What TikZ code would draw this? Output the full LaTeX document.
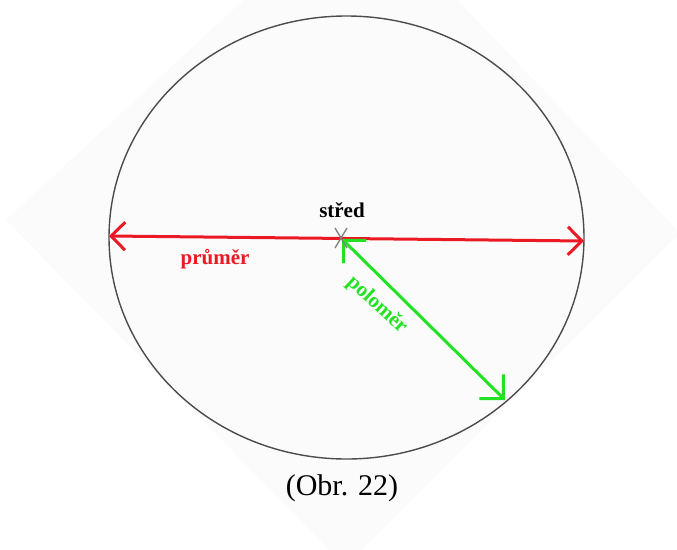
\documentclass[tikz,border=0pt]{standalone}
\usepackage{fontspec}
\setmainfont{Liberation Serif}
\usetikzlibrary{arrows.meta}
\definecolor{prumer}{RGB}{235,25,35}
\definecolor{polomer}{RGB}{35,225,35}
\definecolor{pozadi}{RGB}{251,251,251}

\begin{document}
\begin{tikzpicture}[x=1pt, y=-1pt,
  sipka/.style={{Straight Barb[length=14pt,width=28pt]}-{Straight Barb[length=14pt,width=28pt]}},
  zsipka/.style={{Straight Barb[length=16pt,width=32pt]}-{Straight Barb[length=17pt,width=34pt]}},
  popis/.style={font=\bfseries\fontsize{21}{24}\selectfont, inner sep=0pt}]
  \useasboundingbox (0,0) rectangle (677,549);
  \clip (0,0) rectangle (677,549);
  \fill[white] (0,0) rectangle (677,549);
  \fill[pozadi] (6,220) -- (357,-105) -- (680,233) -- (345,566) -- cycle;
  % kruznice
  \draw[gray!60!black, line width=1.4pt] (346.5,237.5) ellipse [x radius=237.5, y radius=221.5];
  \coordinate (S) at (342,239);
  \coordinate (L) at (109,236);
  \coordinate (R) at (584,241);
  \coordinate (P) at (505,400);
  \draw[prumer, line width=3pt, sipka] (L) -- (R);
  \draw[polomer, line width=3pt, zsipka] (S) -- (P);
  \draw[gray, line width=1.3pt] (335,228) -- (347,248) (347,228) -- (335,248);
  \node[popis] (stred) at (342,210) {střed};
  \node[popis, text=prumer] (prumer) at (215,259) {průměr};
  \node[popis, text=polomer, rotate=-43] (polomer) at (377,305) {poloměr};
  \node[font=\fontsize{30}{36}\selectfont, inner sep=0pt] (obr) at (342,488) {(Obr. 22)};
\end{tikzpicture}
\end{document}
